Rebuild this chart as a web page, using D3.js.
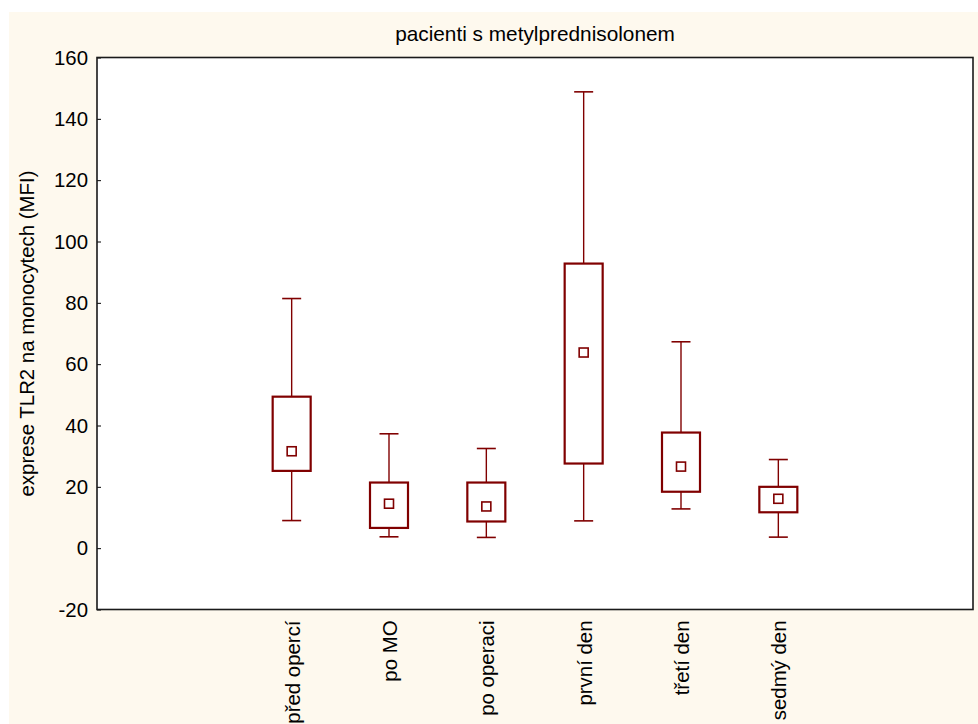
<!DOCTYPE html>
<html>
<head>
<meta charset="utf-8">
<script src="https://cdn.jsdelivr.net/npm/d3@7"></script>
<style>
  html, body { margin: 0; padding: 0; background: #ffffff; }
  svg { display: block; }
  text { font-family: Arial, "Liberation Sans", sans-serif; fill: #000; }
</style>
</head>
<body>
<svg id="chart" width="978" height="724"></svg>
<script>
// Box-plot statistics per time point
const categories = ["před opercí", "po MO", "po operaci", "první den", "třetí den", "sedmý den"];
const medians    = [31.6, 14.5, 13.6, 63.8, 26.6, 16.1];
const q1         = [25.2,  6.6,  8.7, 27.6, 18.4, 11.7];
const q3         = [49.4, 21.4, 21.4, 92.8, 37.7, 20.0];
const whiskerLo  = [ 9.0,  3.7,  3.5,  8.9, 12.8,  3.6];
const whiskerHi  = [81.4, 37.3, 32.5, 148.8, 67.3, 28.9];
const yTicks     = [-20, 0, 20, 40, 60, 80, 100, 120, 140, 160];

const title  = "pacienti s metylprednisolonem";
const yTitle = "exprese TLR2 na monocytech (MFI)";

const W = 978, H = 724;
const plot = { left: 97, right: 973, top: 57.5, bottom: 609.5 };
const dark = "#800000";

const svg = d3.select("#chart");

// page background panel
svg.append("rect").attr("x", 9).attr("y", 12).attr("width", W - 9).attr("height", H - 12)
  .attr("fill", "#fef9ee");
svg.append("rect")
  .attr("x", plot.left).attr("y", plot.top)
  .attr("width", plot.right - plot.left).attr("height", plot.bottom - plot.top)
  .attr("fill", "#ffffff");

const pw = plot.right - plot.left;
const x = d3.scalePoint()
  .domain(categories)
  .range([plot.left + pw * 2 / 9, plot.left + pw * 7 / 9]);

const y = d3.scaleLinear().domain([-20, 160]).range([plot.bottom, plot.top]);

// y axis with inward ticks
const yAxis = svg.append("g")
  .attr("transform", `translate(${plot.left},0)`)
  .call(d3.axisLeft(y).tickValues(yTicks).tickFormat(d => String(d))
    .tickSizeInner(-4).tickSizeOuter(0).tickPadding(9));
yAxis.select(".domain").remove();
yAxis.selectAll(".tick line").attr("stroke", "#000").attr("stroke-width", 1);
yAxis.selectAll(".tick text")
  .attr("font-size", 20.4).attr("fill", "#000")
  .attr("font-family", "Arial, 'Liberation Sans', sans-serif")
  .attr("x", -9);

// x axis labels, rotated
const xAxis = svg.append("g")
  .attr("transform", `translate(0,${plot.bottom})`)
  .call(d3.axisBottom(x).tickSize(0).tickPadding(0));
xAxis.select(".domain").remove();
xAxis.selectAll(".tick text")
  .attr("font-size", 20.4).attr("fill", "#000")
  .attr("font-family", "Arial, 'Liberation Sans', sans-serif")
  .attr("transform", "rotate(-90)")
  .attr("text-anchor", "end")
  .attr("x", -11)
  .attr("y", 0)
  .attr("dy", "0.36em");

// plot frame
svg.append("rect")
  .attr("x", plot.left).attr("y", plot.top)
  .attr("width", plot.right - plot.left).attr("height", plot.bottom - plot.top)
  .attr("fill", "none").attr("stroke", "#1a1a1a").attr("stroke-width", 1.6);

// boxes
const data = categories.map((c, i) => ({
  c, med: medians[i], q1: q1[i], q3: q3[i], lo: whiskerLo[i], hi: whiskerHi[i]
}));
const boxHalf = 19, capHalf = 9.5, markHalf = 4.5;

const g = svg.append("g").selectAll("g").data(data).join("g");

// whiskers
g.append("line")
  .attr("x1", d => x(d.c)).attr("x2", d => x(d.c))
  .attr("y1", d => y(d.q3)).attr("y2", d => y(d.hi))
  .attr("stroke", dark).attr("stroke-width", 1.4);
g.append("line")
  .attr("x1", d => x(d.c)).attr("x2", d => x(d.c))
  .attr("y1", d => y(d.q1)).attr("y2", d => y(d.lo))
  .attr("stroke", dark).attr("stroke-width", 1.4);
// caps
g.append("line")
  .attr("x1", d => x(d.c) - capHalf).attr("x2", d => x(d.c) + capHalf)
  .attr("y1", d => y(d.hi)).attr("y2", d => y(d.hi))
  .attr("stroke", dark).attr("stroke-width", 1.6);
g.append("line")
  .attr("x1", d => x(d.c) - capHalf).attr("x2", d => x(d.c) + capHalf)
  .attr("y1", d => y(d.lo)).attr("y2", d => y(d.lo))
  .attr("stroke", dark).attr("stroke-width", 1.6);
// box
g.append("rect")
  .attr("x", d => x(d.c) - boxHalf).attr("width", boxHalf * 2)
  .attr("y", d => y(d.q3)).attr("height", d => y(d.q1) - y(d.q3))
  .attr("fill", "none").attr("stroke", dark).attr("stroke-width", 2.2);
// median marker
g.append("rect")
  .attr("x", d => x(d.c) - markHalf).attr("width", markHalf * 2)
  .attr("y", d => y(d.med) - markHalf).attr("height", markHalf * 2)
  .attr("fill", "#ffffff").attr("stroke", dark).attr("stroke-width", 1.6);

// titles
svg.append("text")
  .attr("x", (plot.left + plot.right) / 2).attr("y", 41)
  .attr("text-anchor", "middle").attr("font-size", 20.8)
  .text(title);

svg.append("text")
  .attr("transform", `translate(34,${(plot.top + plot.bottom) / 2}) rotate(-90)`)
  .attr("text-anchor", "middle").attr("font-size", 20.4)
  .text(yTitle);
</script>
</body>
</html>
